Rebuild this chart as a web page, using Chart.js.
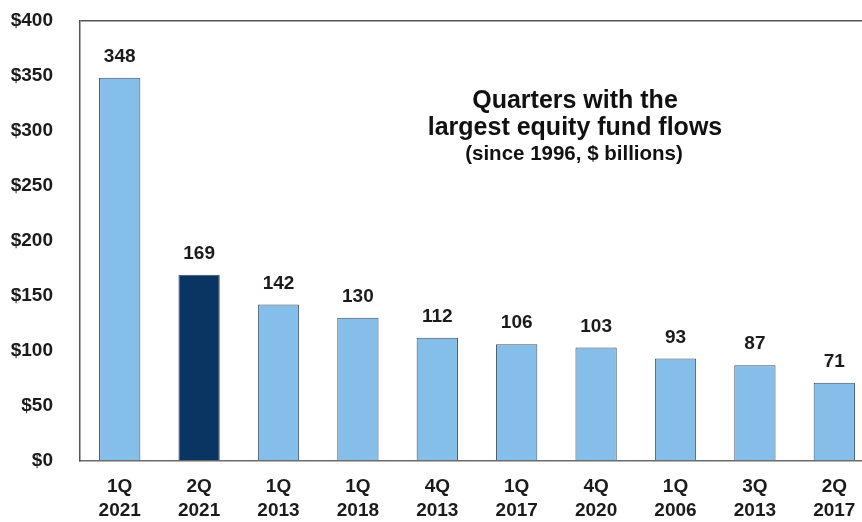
<!DOCTYPE html>
<html>
<head>
<meta charset="utf-8">
<script src="https://cdn.jsdelivr.net/npm/chart.js@4/dist/chart.umd.min.js"></script>
<style>
    html, body { margin: 0; padding: 0; background: #fff; overflow: hidden; }
    #wrap { width: 862px; height: 522px; overflow: hidden; }
    #graph { margin-top: -18px; display: block; }
</style>
</head>
<body>
<div id="wrap"><canvas id="graph" width="874" height="540"></canvas></div>
<script>
'use strict';

// data
var quarters = [['1Q', '2021'], ['2Q', '2021'], ['1Q', '2013'], ['1Q', '2018'], ['4Q', '2013'],
                ['1Q', '2017'], ['4Q', '2020'], ['1Q', '2006'], ['3Q', '2013'], ['2Q', '2017']];
var flows = [348, 169, 142, 130, 112, 106, 103, 93, 87, 71];
var yTicks = [0, 50, 100, 150, 200, 250, 300, 350, 400];
var titleLines = ['Quarters with the', 'largest equity fund flows'];
var subTitle = '(since 1996, $ billions)';

var LIGHT = '#86BEEA';
var DARK = '#0A3461';
var FONT = '"Liberation Sans", Arial, sans-serif';
var SHIFT = 18; // canvas is pulled up by this much

// value labels above the bars
var valueLabels = {
    id: 'valueLabels',
    afterDatasetsDraw: function (chart) {
        var ctx = chart.ctx;
        var meta = chart.getDatasetMeta(0);
        ctx.save();
        ctx.font = 'bold 19px ' + FONT;
        ctx.fillStyle = '#1b1b1b';
        ctx.textAlign = 'center';
        ctx.textBaseline = 'middle';
        meta.data.forEach(function (bar, i) {
            ctx.fillText(String(flows[i]), bar.x, bar.y - 21);
        });
        ctx.restore();
    }
};

// title block inside the plot
var innerTitle = {
    id: 'innerTitle',
    afterDraw: function (chart) {
        var ctx = chart.ctx;
        ctx.save();
        ctx.fillStyle = '#111';
        ctx.textAlign = 'center';
        ctx.textBaseline = 'middle';
        ctx.font = 'bold 25px ' + FONT;
        ctx.fillText(titleLines[0], 575, 101 + SHIFT);
        ctx.fillText(titleLines[1], 575, 128 + SHIFT);
        ctx.font = 'bold 20.5px ' + FONT;
        ctx.fillText(subTitle, 574, 154 + SHIFT);
        ctx.restore();
    }
};

new Chart('graph', {
    type: 'bar',
    data: {
        labels: quarters,
        datasets: [{
            data: flows,
            backgroundColor: flows.map(function (v, i) { return i === 1 ? DARK : LIGHT; }),
            borderColor: '#3e4c5c',
            borderWidth: 1,
            categoryPercentage: 1,
            barPercentage: 0.52
        }]
    },
    options: {
        responsive: false,
        animation: false,
        layout: { padding: { top: 2, left: 0, right: 0, bottom: 0 } },
        plugins: {
            legend: { display: false },
            tooltip: { enabled: false }
        },
        scales: {
            x: {
                grid: { display: false },
                border: { display: true, color: '#6b6b6b', width: 1.5 },
                ticks: {
                    color: '#1b1b1b',
                    font: { family: FONT, size: 19, weight: 'bold', lineHeight: 1.3 },
                    padding: 5,
                    maxRotation: 0
                },
                afterFit: function (scale) { scale.height = 61; }
            },
            y: {
                min: 0,
                max: 400,
                afterBuildTicks: function (scale) {
                    scale.ticks = yTicks.map(function (v) { return { value: v }; });
                },
                grid: {
                    drawTicks: false,
                    color: function (c) { return c.tick && c.tick.value === 400 ? '#555' : 'rgba(0,0,0,0)'; },
                    lineWidth: 1.5
                },
                border: { display: true, color: '#555', width: 1.5 },
                ticks: {
                    color: '#1b1b1b',
                    font: { family: FONT, size: 19, weight: 'bold' },
                    padding: 27,
                    callback: function (v) { return '$' + v; }
                },
                afterFit: function (scale) { scale.width = 80; }
            }
        }
    },
    plugins: [valueLabels, innerTitle]
});
</script>
</body>
</html>
